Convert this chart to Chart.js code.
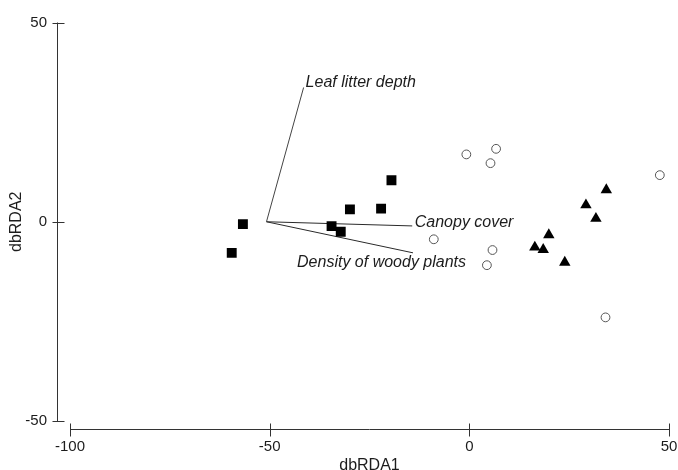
<!DOCTYPE html>
<html>
<head>
<meta charset="utf-8">
<script src="https://cdn.jsdelivr.net/npm/chart.js@4.4.0/dist/chart.umd.min.js"></script>
<style>
html,body{margin:0;padding:0;background:#fff;}
#wrap{width:678px;height:470px;position:relative;}
</style>
</head>
<body>
<div id="wrap"><canvas id="c" width="678" height="470"></canvas></div>
<script>
// ---- data ----
const xTicks = [-100, -50, 0, 50];
const yTicks = [-50, 0, 50];
const xTitle = 'dbRDA1';
const yTitle = 'dbRDA2';

const squareX = [-56.7, -59.5, -29.9, -22.1, -19.5, -34.5, -32.2];
const squareY = [-0.6, -7.8, 3.1, 3.3, 10.4, -1.1, -2.5];

const circleX = [-0.75, 6.7, 5.3, 47.7, -8.9, 5.8, 4.4, 34.1];
const circleY = [16.9, 18.3, 14.7, 11.7, -4.4, -7.1, -10.9, -24.0];

const triangleX = [34.3, 29.2, 31.7, 19.9, 16.4, 18.5, 23.9];
const triangleY = [8.0, 4.2, 0.8, -3.3, -6.4, -7.0, -10.2];

const vectorOriginX = -50.8;
const vectorOriginY = 0;
const vectorNames = ['Leaf litter depth', 'Canopy cover', 'Density of woody plants'];
const vectorEndX = [-41.5, -14.3, -14.1];
const vectorEndY = [33.7, -1.05, -7.8];

// ---- styling (not data) ----
const FONT = "'Liberation Sans', Arial, sans-serif";
const TEXT = '#1c1c1c';
const labelPlacement = [
  {dx: 2, dy: -5, align: 'left'},
  {dx: 2.5, dy: -3, align: 'left'},
  {dx: 53, dy: 10, align: 'right'}
];

function pts(xs, ys) { return xs.map((x, i) => ({x: x, y: ys[i]})); }

const datasets = [
  {label: 'squares', data: pts(squareX, squareY), pointStyle: 'rect', pointRadius: 7,
   backgroundColor: '#000', borderColor: '#000', borderWidth: 0, showLine: false},
  {label: 'circles', data: pts(circleX, circleY), pointStyle: 'circle', pointRadius: 4.4,
   backgroundColor: '#fff', borderColor: '#555', borderWidth: 1, showLine: false},
  {label: 'triangles', data: pts(triangleX, triangleY), pointStyle: 'triangle', pointRadius: 6.6,
   backgroundColor: '#000', borderColor: '#000', borderWidth: 0, showLine: false}
];
vectorNames.forEach((n, i) => {
  datasets.push({
    label: n,
    data: [{x: vectorOriginX, y: vectorOriginY}, {x: vectorEndX[i], y: vectorEndY[i]}],
    showLine: true, pointRadius: 0, borderColor: i === 0 ? '#444' : '#2a2a2a',
    borderWidth: 1, fill: false
  });
});

function noOverflow(s) {
  s.paddingLeft = 0; s.paddingRight = 0; s.paddingTop = 0; s.paddingBottom = 0;
}

const axesPlugin = {
  id: 'detachedAxes',
  afterDraw(chart) {
    const ctx = chart.ctx, xs = chart.scales.x, ys = chart.scales.y, ca = chart.chartArea;
    ctx.save();
    ctx.strokeStyle = '#333';
    ctx.lineWidth = 1;
    const axX = Math.round(ca.left - 13) + 0.5;
    ctx.beginPath();
    ctx.moveTo(axX, ys.getPixelForValue(yTicks[yTicks.length - 1]));
    ctx.lineTo(axX, ys.getPixelForValue(yTicks[0]));
    yTicks.forEach(v => {
      const p = Math.round(ys.getPixelForValue(v)) + 0.5;
      ctx.moveTo(axX - 5, p); ctx.lineTo(axX + 7, p);
    });
    ctx.stroke();
    const axY = Math.round(ca.bottom + 7.5) + 0.5;
    ctx.beginPath();
    ctx.moveTo(xs.getPixelForValue(xTicks[0]), axY);
    ctx.lineTo(xs.getPixelForValue(xTicks[xTicks.length - 1]), axY);
    xTicks.forEach(v => {
      const p = Math.round(xs.getPixelForValue(v)) + 0.5;
      ctx.moveTo(p, axY - 6); ctx.lineTo(p, axY + 7);
    });
    ctx.stroke();
    ctx.restore();
  }
};

const vectorLabelPlugin = {
  id: 'vectorLabels',
  afterDatasetsDraw(chart) {
    const ctx = chart.ctx, xs = chart.scales.x, ys = chart.scales.y;
    ctx.save();
    ctx.font = 'italic 16px ' + FONT;
    ctx.fillStyle = TEXT;
    ctx.textBaseline = 'middle';
    vectorNames.forEach((n, i) => {
      const p = labelPlacement[i];
      ctx.textAlign = p.align;
      ctx.fillText(n, xs.getPixelForValue(vectorEndX[i]) + p.dx, ys.getPixelForValue(vectorEndY[i]) + p.dy);
    });
    ctx.restore();
  }
};

new Chart(document.getElementById('c'), {
  type: 'scatter',
  data: {datasets: datasets},
  options: {
    responsive: false,
    animation: false,
    devicePixelRatio: 1,
    layout: {padding: {top: 22.5, right: 9, bottom: 0, left: 0}},
    plugins: {legend: {display: false}, tooltip: {enabled: false}},
    scales: {
      x: {
        type: 'linear', min: xTicks[0], max: xTicks[xTicks.length - 1],
        afterBuildTicks: s => { s.ticks = xTicks.map(v => ({value: v})); },
        afterFit: s => { s.height = 49; noOverflow(s); },
        grid: {display: false}, border: {display: false},
        ticks: {font: {family: FONT, size: 15}, color: TEXT, padding: 9, maxRotation: 0},
        title: {display: true, text: xTitle, color: TEXT, font: {family: FONT, size: 16, lineHeight: 0.6}, padding: 0}
      },
      y: {
        type: 'linear', min: yTicks[0], max: yTicks[yTicks.length - 1],
        afterBuildTicks: s => { s.ticks = yTicks.map(v => ({value: v})); },
        afterFit: s => { s.width = 70; noOverflow(s); },
        grid: {display: false}, border: {display: false},
        ticks: {font: {family: FONT, size: 15}, color: TEXT, padding: 15},
        title: {display: true, text: yTitle, color: TEXT, font: {family: FONT, size: 16, lineHeight: 1.2}, padding: {top: 7, bottom: 0}}
      }
    }
  },
  plugins: [axesPlugin, vectorLabelPlugin]
});
</script>
</body>
</html>
